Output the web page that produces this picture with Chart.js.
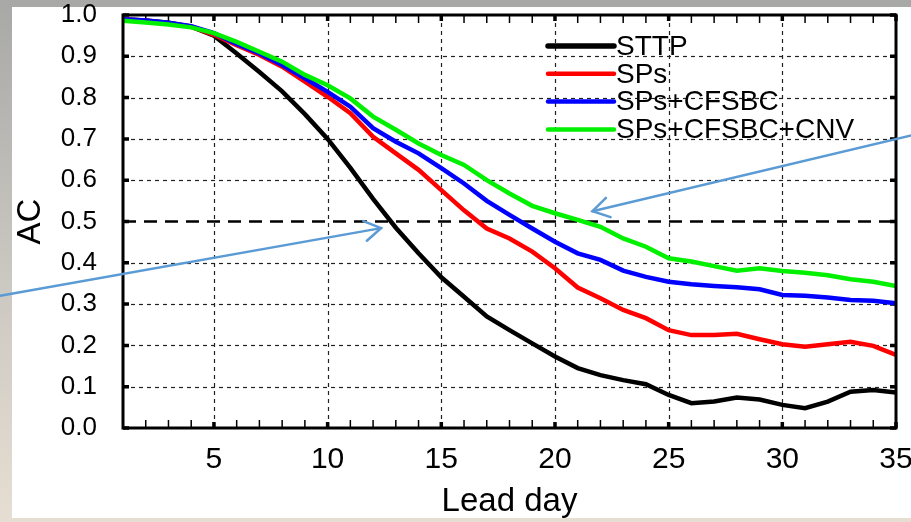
<!DOCTYPE html>
<html>
<head>
<meta charset="utf-8">
<script src="https://cdn.jsdelivr.net/npm/chart.js@4.4.1/dist/chart.umd.min.js"></script>
<style>
    html, body { margin: 0; padding: 0; background: #bdbab4; }
    #wrap { width: 911px; height: 522px; position: relative; }
</style>
</head>
<body>
<div id="wrap"><canvas id="acChart"></canvas></div>
<script>
let days = [];
for (let d = 1; d <= 35; d++) days.push(d);

let seriesNames = ['STTP', 'SPs', 'SPs+CFSBC', 'SPs+CFSBC+CNV'];
let seriesColors = ['#000000', '#ff0000', '#0000ff', '#00f000'];

let sttp = [0.990, 0.987, 0.981, 0.972, 0.950, 0.907, 0.862, 0.815, 0.760, 0.700,
    0.630, 0.555, 0.485, 0.423, 0.365, 0.318, 0.270, 0.237, 0.205, 0.173,
    0.145, 0.128, 0.116, 0.106, 0.080, 0.060, 0.064, 0.074, 0.069, 0.056,
    0.048, 0.064, 0.088, 0.092, 0.086];
let sps = [0.990, 0.986, 0.980, 0.972, 0.952, 0.927, 0.903, 0.875, 0.839, 0.802,
    0.762, 0.705, 0.665, 0.625, 0.576, 0.527, 0.483, 0.459, 0.427, 0.387,
    0.340, 0.314, 0.286, 0.266, 0.237, 0.225, 0.225, 0.228, 0.215, 0.203,
    0.197, 0.203, 0.209, 0.199, 0.177];
let spsCfsbc = [0.990, 0.987, 0.981, 0.973, 0.956, 0.930, 0.907, 0.879, 0.847, 0.814,
    0.778, 0.726, 0.693, 0.665, 0.629, 0.592, 0.550, 0.516, 0.483, 0.451,
    0.423, 0.407, 0.381, 0.366, 0.354, 0.348, 0.344, 0.341, 0.336, 0.322,
    0.320, 0.316, 0.310, 0.308, 0.302];
let spsCfsbcCnv = [0.986, 0.982, 0.977, 0.970, 0.956, 0.935, 0.911, 0.887, 0.855, 0.830,
    0.798, 0.754, 0.722, 0.689, 0.661, 0.637, 0.600, 0.568, 0.538, 0.520,
    0.504, 0.487, 0.459, 0.439, 0.411, 0.403, 0.392, 0.381, 0.387, 0.380,
    0.376, 0.370, 0.360, 0.354, 0.344];

let yTicks = [0.0, 0.1, 0.2, 0.3, 0.4, 0.5, 0.6, 0.7, 0.8, 0.9, 1.0];
let xLabelDays = [5, 10, 15, 20, 25, 30, 35];
let refLine = 0.5;

// arrows drawn on the slide: [tail day, tail AC, head day, head AC]
let arrows = [
    [-4.4, 0.32, 12.35, 0.484],
    [35.8, 0.710, 21.65, 0.525]
];

let allSeries = [sttp, sps, spsCfsbc, spsCfsbcCnv];
let FONT = '"Liberation Sans", Arial, sans-serif';

let datasets = allSeries.map(function (vals, i) {
    return {
        label: seriesNames[i],
        data: days.map(function (d, j) { return {x: d, y: vals[j]}; }),
        borderColor: seriesColors[i],
        backgroundColor: seriesColors[i],
        borderWidth: 4.5,
        pointRadius: 0,
        tension: 0,
        fill: false,
        order: 4 - i
    };
});

let slidePlugin = {
    id: 'slide',
    beforeDraw: function (chart) {
        let c = chart.ctx;
        let g = c.createLinearGradient(0, 0, 0, chart.height);
        g.addColorStop(0, '#a8a8a6');
        g.addColorStop(0.5, '#c9c6c0');
        g.addColorStop(1, '#e6ded2');
        c.save();
        c.fillStyle = g;
        c.fillRect(0, 0, chart.width, chart.height);
        c.fillStyle = '#ffffff';
        c.fillRect(12, 7, chart.width - 12, chart.height - 11);
        c.restore();
    },
    beforeDatasetsDraw: function (chart) {
        let c = chart.ctx;
        let a = chart.chartArea;
        let xs = chart.scales.x, ys = chart.scales.y;
        c.save();
        // dotted grid
        c.strokeStyle = '#222';
        c.lineWidth = 1.2;
        c.setLineDash([4, 4]);
        yTicks.forEach(function (v) {
            if (v <= 0 || v >= 1 || v === refLine) return;
            let y = Math.round(ys.getPixelForValue(v)) + 0.5;
            c.beginPath(); c.moveTo(a.left, y); c.lineTo(a.right, y); c.stroke();
        });
        xLabelDays.forEach(function (d) {
            if (d >= 35) return;
            let x = Math.round(xs.getPixelForValue(d)) + 0.5;
            c.beginPath(); c.moveTo(x, a.top); c.lineTo(x, a.bottom); c.stroke();
        });
        // 0.5 reference line
        c.setLineDash([13, 8]);
        c.lineWidth = 2.5;
        c.strokeStyle = '#000';
        let yr = ys.getPixelForValue(refLine);
        c.beginPath(); c.moveTo(a.left, yr); c.lineTo(a.right, yr); c.stroke();
        c.setLineDash([]);
        // ticks
        c.strokeStyle = '#000';
        days.forEach(function (d) {
            let x = xs.getPixelForValue(d);
            let major = d % 5 === 0;
            c.lineWidth = major ? 3.5 : 1.5;
            let len = major ? 6 : 8;
            c.beginPath();
            c.moveTo(x, a.bottom); c.lineTo(x, a.bottom - len);
            c.moveTo(x, a.top); c.lineTo(x, a.top + len);
            c.stroke();
        });
        c.lineWidth = 3.5;
        yTicks.forEach(function (v) {
            let y = ys.getPixelForValue(v);
            c.beginPath();
            c.moveTo(a.left, y); c.lineTo(a.left + 6, y);
            c.moveTo(a.right, y); c.lineTo(a.right - 6, y);
            c.stroke();
        });
        c.restore();
    },
    afterDatasetsDraw: function (chart) {
        let c = chart.ctx;
        let a = chart.chartArea;
        c.save();
        // frame
        c.strokeStyle = '#000';
        c.lineWidth = 3;
        c.strokeRect(a.left, a.top, a.right - a.left, a.bottom - a.top);
        // legend
        c.font = '28px ' + FONT;
        c.textBaseline = 'middle';
        c.textAlign = 'left';
        c.lineCap = 'round';
        chart.data.datasets.forEach(function (ds, i) {
            let y = 46 + i * 27.8;
            c.strokeStyle = ds.borderColor;
            c.lineWidth = i === 0 ? 5.5 : 4.5;
            c.beginPath(); c.moveTo(548, y); c.lineTo(614, y); c.stroke();
            c.fillStyle = '#000';
            c.fillText(ds.label, 616, y + 1);
        });
        c.restore();
    },
    afterDraw: function (chart) {
        let c = chart.ctx;
        let xs = chart.scales.x, ys = chart.scales.y;
        c.save();
        c.strokeStyle = '#5b9bd5';
        c.lineWidth = 2.5;
        c.lineCap = 'round';
        arrows.forEach(function (ar) {
            let x0 = xs.getPixelForValue(ar[0]), y0 = ys.getPixelForValue(ar[1]);
            let x1 = xs.getPixelForValue(ar[2]), y1 = ys.getPixelForValue(ar[3]);
            let ang = Math.atan2(y1 - y0, x1 - x0);
            c.beginPath(); c.moveTo(x0, y0); c.lineTo(x1, y1); c.stroke();
            c.beginPath();
            c.moveTo(x1 - 19 * Math.cos(ang - 0.55), y1 - 19 * Math.sin(ang - 0.55));
            c.lineTo(x1, y1);
            c.lineTo(x1 - 19 * Math.cos(ang + 0.55), y1 - 19 * Math.sin(ang + 0.55));
            c.stroke();
        });
        c.restore();
    }
};

let ctx = document.getElementById('acChart');
let myChart = new Chart(ctx, {
    type: 'line',
    data: {datasets: datasets},
    options: {
        responsive: true,
        maintainAspectRatio: false,
        animation: false,
        layout: {padding: {left: 0, top: 15, right: 15, bottom: 0}},
        plugins: {legend: {display: false}, tooltip: {enabled: false}},
        scales: {
            x: {
                type: 'linear',
                min: 1,
                max: 35,
                afterFit: function (s) {
                    s.height = 94;
                    s.paddingLeft = 0;
                    s.paddingRight = 0;
                },
                afterBuildTicks: function (s) {
                    s.ticks = xLabelDays.map(function (d) { return {value: d}; });
                },
                grid: {display: false, drawTicks: false},
                border: {display: false},
                ticks: {
                    color: '#000',
                    padding: 14,
                    maxRotation: 0,
                    autoSkip: false,
                    font: {family: FONT, size: 30}
                },
                title: {
                    display: true,
                    text: 'Lead day',
                    color: '#000',
                    padding: {top: -2, bottom: 0},
                    font: {family: FONT, size: 33}
                }
            },
            y: {
                min: 0,
                max: 1,
                afterFit: function (s) {
                    s.width = 123;
                    s.paddingTop = 0;
                    s.paddingBottom = 0;
                },
                afterBuildTicks: function (s) {
                    s.ticks = yTicks.map(function (v) { return {value: v}; });
                },
                grid: {display: false, drawTicks: false},
                border: {display: false},
                ticks: {
                    color: '#000',
                    padding: 26,
                    font: {family: FONT, size: 26},
                    callback: function (v) { return Number(v).toFixed(1); }
                },
                title: {
                    display: true,
                    text: 'AC',
                    color: '#000',
                    padding: {top: 11, bottom: 0},
                    font: {family: FONT, size: 33}
                }
            }
        }
    },
    plugins: [slidePlugin]
});
</script>
</body>
</html>
